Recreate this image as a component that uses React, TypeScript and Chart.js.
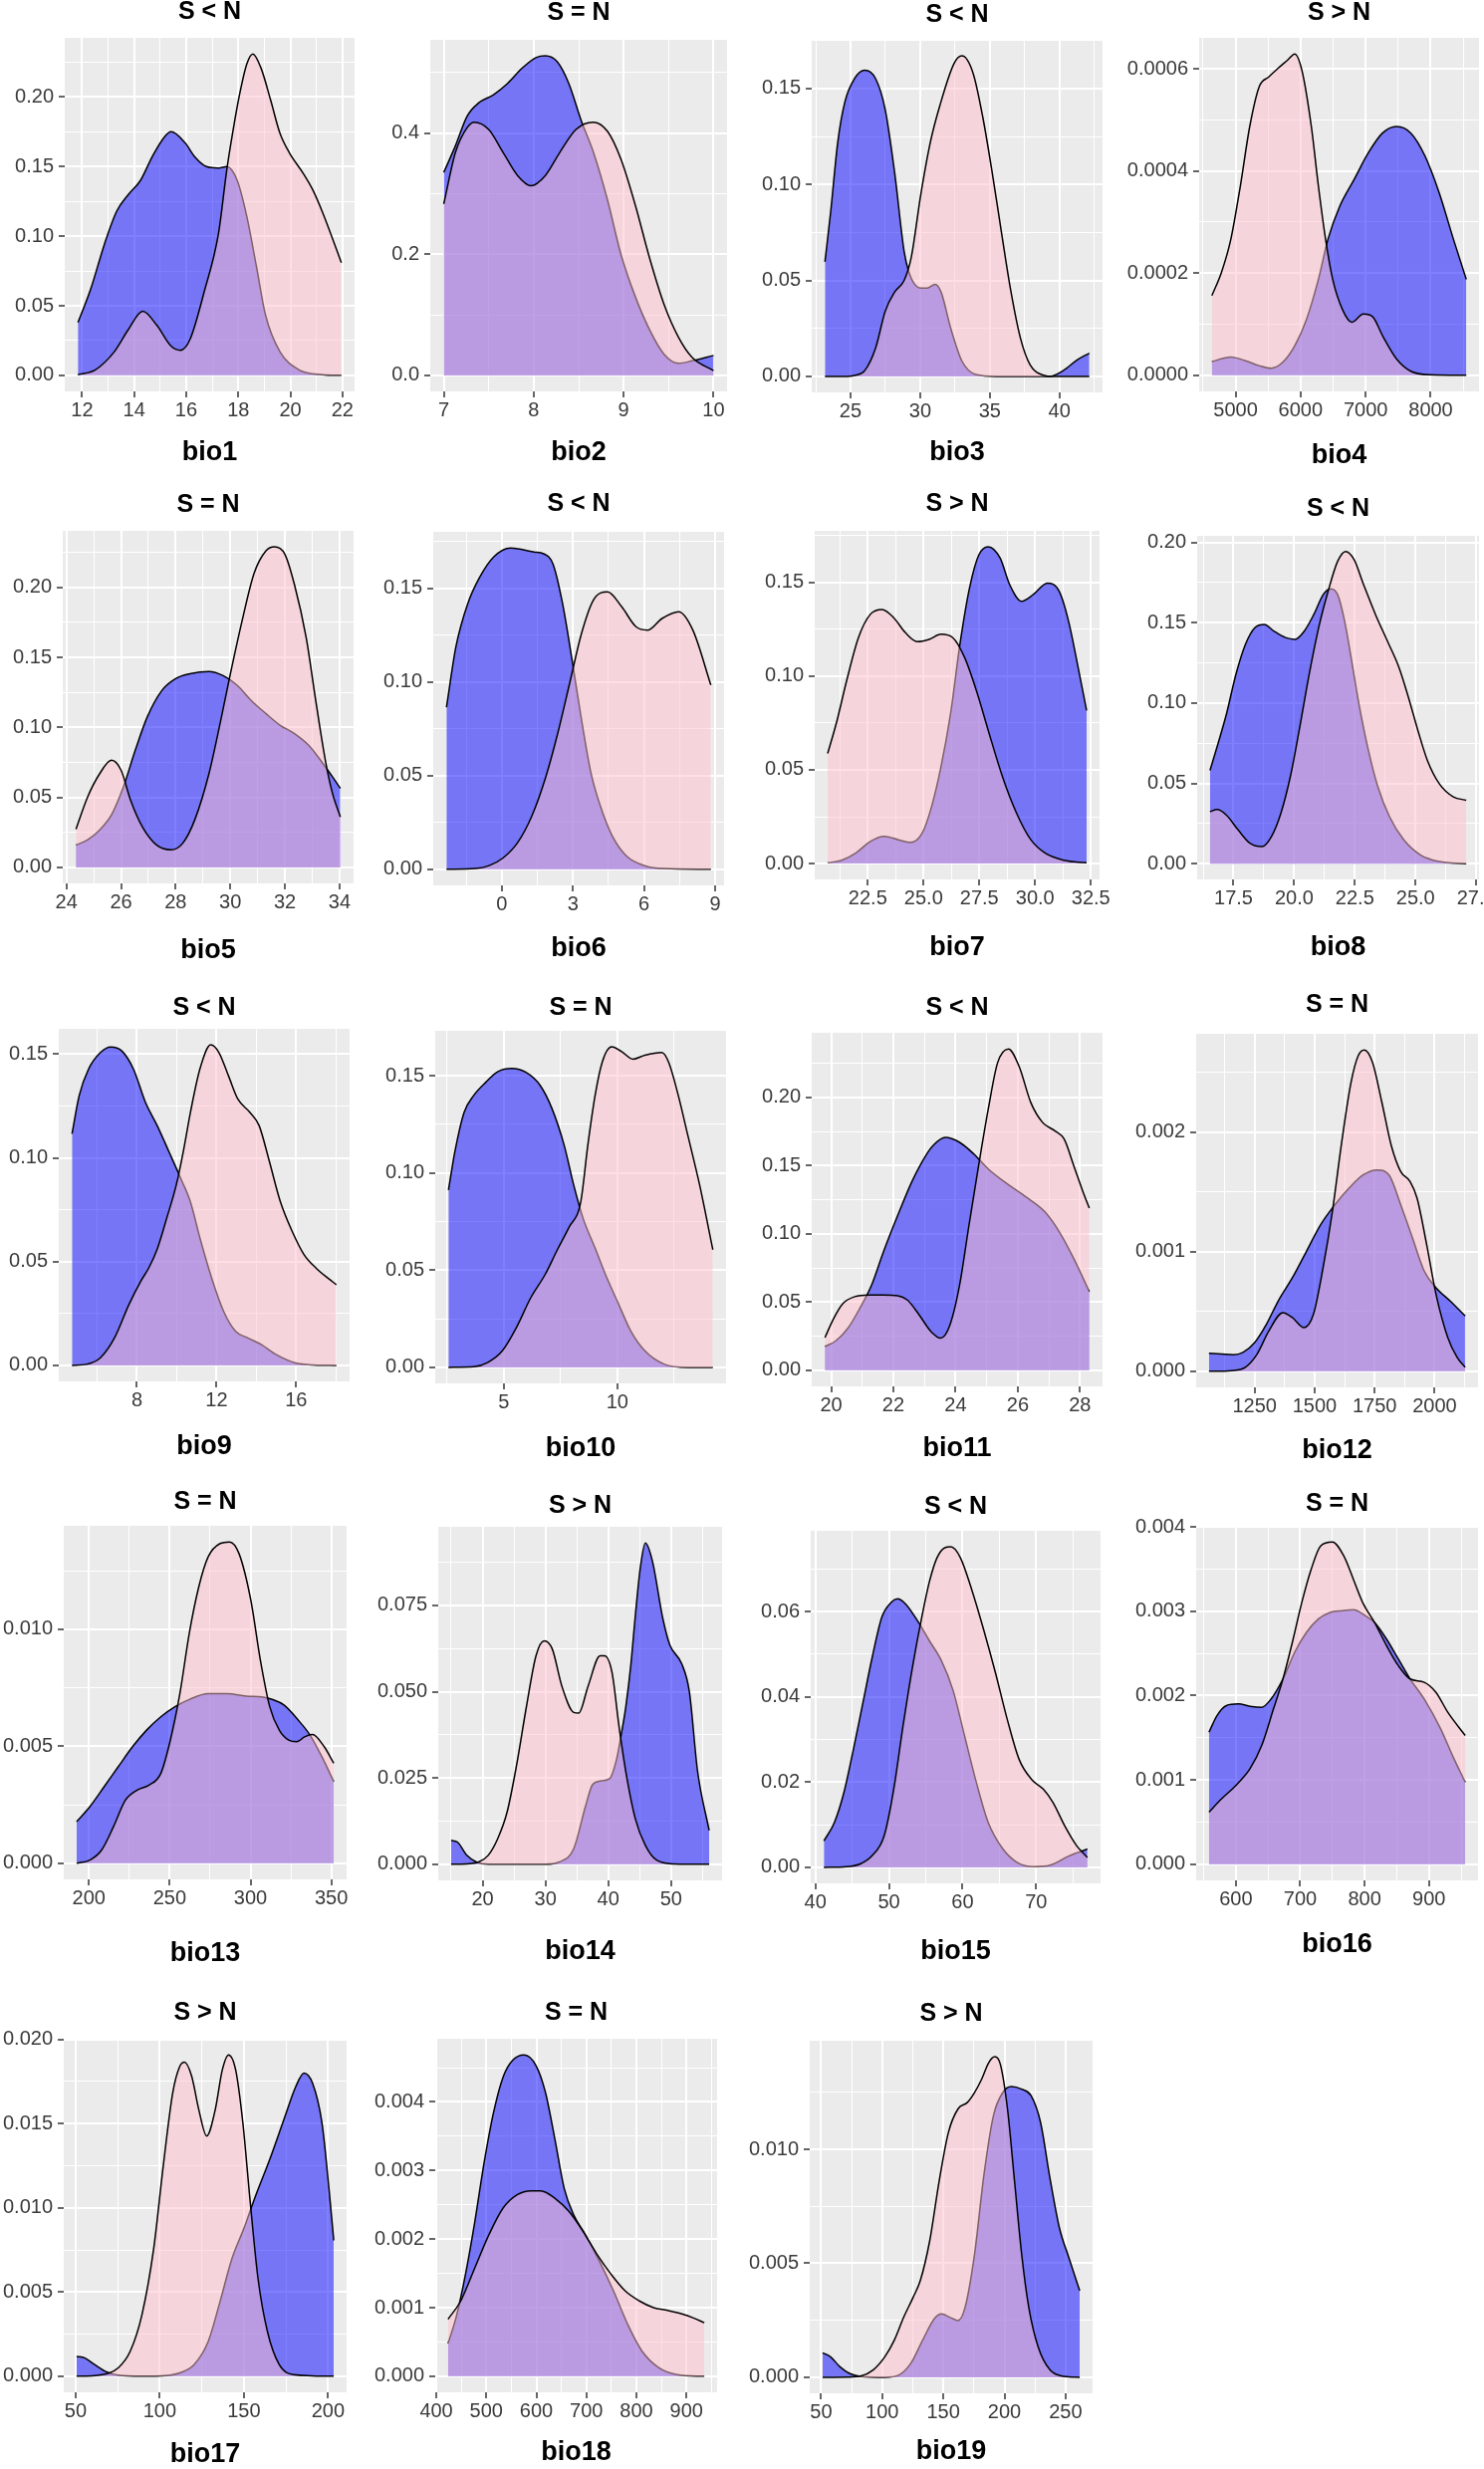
import React, { useEffect, useRef } from 'react';
import { Chart, registerables } from 'chart.js';
Chart.register(...registerables);

type Pt = [number, number];

// ---------- density curves (x, density) ----------
const bio1Blue: Pt[] = [[11.84,0.038],[12.33,0.062],[12.87,0.095],[13.33,0.118],[13.78,0.130],[14.24,0.140],[14.69,0.157],[15.15,0.171],[15.42,0.175],[15.96,0.167],[16.33,0.157],[16.78,0.150],[17.24,0.149],[17.56,0.150],[17.96,0.140],[18.33,0.114],[18.69,0.079],[19.05,0.043],[19.60,0.017],[20.33,0.004],[21.24,0.0005],[21.96,0]];
const bio1Pink: Pt[] = [[11.84,0.0005],[12.51,0.004],[13.24,0.017],[13.78,0.033],[14.33,0.046],[14.87,0.036],[15.42,0.021],[15.78,0.018],[16.15,0.026],[16.69,0.060],[17.24,0.102],[17.56,0.148],[17.78,0.174],[18.05,0.202],[18.33,0.224],[18.56,0.231],[18.87,0.221],[19.24,0.198],[19.60,0.174],[19.96,0.160],[20.50,0.145],[20.87,0.133],[21.24,0.117],[21.96,0.081]];

const bio2Blue: Pt[] = [[7.0,0.335],[7.13,0.379],[7.26,0.428],[7.39,0.450],[7.55,0.463],[7.71,0.482],[7.87,0.507],[8.03,0.525],[8.13,0.5275],[8.26,0.518],[8.39,0.482],[8.53,0.42],[8.66,0.37],[8.82,0.29],[8.97,0.20],[9.13,0.13],[9.29,0.075],[9.45,0.035],[9.61,0.02],[9.76,0.024],[10.0,0.033]];
const bio2Pink: Pt[] = [[7.0,0.283],[7.13,0.368],[7.26,0.409],[7.34,0.418],[7.50,0.406],[7.66,0.368],[7.82,0.330],[7.97,0.313],[8.13,0.330],[8.29,0.368],[8.47,0.406],[8.66,0.418],[8.82,0.403],[8.97,0.357],[9.13,0.281],[9.29,0.193],[9.45,0.117],[9.61,0.063],[9.76,0.030],[10.0,0.008]];

const bio3Blue: Pt[] = [[23.16,0.0597],[23.57,0.0856],[24.08,0.122],[24.59,0.143],[25.27,0.155],[26.02,0.1595],[26.81,0.155],[27.49,0.139],[28.17,0.106],[28.85,0.065],[29.2,0.054],[29.6,0.048],[30.05,0.046],[30.5,0.046],[31.07,0.048],[31.5,0.044],[32.2,0.025],[33.0,0.008],[34.0,0.001],[35.5,0],[38.9,0],[39.3,0],[40.27,0.003],[41.3,0.0087],[42.15,0.0121]];
const bio3Pink: Pt[] = [[23.16,0],[24.5,0],[25.27,0.0005],[26.02,0.003],[26.81,0.015],[27.49,0.034],[28.17,0.044],[28.85,0.05],[29.36,0.062],[30.05,0.095],[30.73,0.122],[31.41,0.141],[32.43,0.163],[33.0,0.167],[33.8,0.158],[34.5,0.135],[35.2,0.105],[35.84,0.075],[36.5,0.045],[37.2,0.02],[37.9,0.006],[38.91,0.0005],[39.5,0],[42.15,0]];

const bio4Blue: Pt[] = [[4636,2.7e-5],[4927,3.6e-5],[5146,2.9e-5],[5364,1.9e-5],[5546,1.4e-5],[5728,2.6e-5],[5910,5.8e-5],[6092,1.10e-4],[6274,1.88e-4],[6420,2.66e-4],[6602,3.31e-4],[6821,3.83e-4],[7039,4.35e-4],[7258,4.74e-4],[7476,4.87e-4],[7695,4.74e-4],[7913,4.29e-4],[8131,3.57e-4],[8350,2.66e-4],[8547,1.88e-4]];
const bio4Pink: Pt[] = [[4636,1.56e-4],[4782,2.01e-4],[4927,2.66e-4],[5073,3.70e-4],[5218,4.87e-4],[5364,5.65e-4],[5510,5.84e-4],[5655,6.01e-4],[5801,6.17e-4],[5910,6.29e-4],[6020,5.97e-4],[6165,4.87e-4],[6274,3.70e-4],[6384,2.66e-4],[6493,1.88e-4],[6639,1.30e-4],[6784,1.04e-4],[6966,1.20e-4],[7112,1.14e-4],[7258,7.8e-5],[7476,3.2e-5],[7695,8e-6],[7986,1e-6],[8547,0]];

const bio5Blue: Pt[] = [[24.35,0.016],[24.78,0.0197],[25.22,0.0268],[25.65,0.0375],[26.09,0.0577],[26.52,0.0837],[26.96,0.1075],[27.48,0.126],[28.0,0.1348],[28.52,0.1383],[29.22,0.14],[29.74,0.137],[30.26,0.13],[30.78,0.119],[31.3,0.11],[31.83,0.1015],[32.35,0.0956],[32.87,0.0873],[33.39,0.0743],[33.74,0.0648],[34.03,0.0565]];
const bio5Pink: Pt[] = [[24.35,0.0273],[24.78,0.0505],[25.22,0.067],[25.65,0.0766],[26.0,0.0695],[26.35,0.048],[26.78,0.029],[27.3,0.016],[27.83,0.0126],[28.26,0.0173],[28.7,0.034],[29.22,0.067],[29.65,0.105],[30.0,0.138],[30.43,0.176],[30.87,0.21],[31.3,0.226],[31.62,0.229],[32.0,0.2237],[32.35,0.202],[32.78,0.164],[33.13,0.119],[33.48,0.0766],[33.74,0.053],[34.03,0.036]];

const bio6Blue: Pt[] = [[-2.34,0.0866],[-1.94,0.119],[-1.44,0.142],[-0.94,0.156],[-0.34,0.167],[0.36,0.1717],[0.86,0.1708],[1.36,0.1695],[1.76,0.1686],[2.16,0.163],[2.56,0.142],[2.96,0.112],[3.36,0.08],[3.76,0.0515],[4.16,0.0337],[4.66,0.0178],[5.26,0.0071],[6.06,0.0018],[6.86,0.0004],[8.82,0]];
const bio6Pink: Pt[] = [[-2.34,0],[-1.14,0.0004],[-0.54,0.002],[0.06,0.0062],[0.66,0.0142],[1.26,0.0284],[1.86,0.0497],[2.36,0.0728],[2.86,0.0994],[3.36,0.126],[3.86,0.1438],[4.46,0.1482],[5.06,0.1402],[5.66,0.1296],[6.16,0.1278],[6.76,0.134],[7.46,0.1376],[8.06,0.1278],[8.82,0.0985]];

const bio7Blue: Pt[] = [[20.7,0.0004],[21.33,0.0018],[21.97,0.0057],[22.61,0.0118],[23.24,0.0145],[23.88,0.0127],[24.41,0.0113],[24.94,0.0163],[25.36,0.0304],[25.78,0.0516],[26.21,0.0799],[26.63,0.117],[27.06,0.147],[27.48,0.1647],[27.9,0.169],[28.43,0.163],[28.86,0.1488],[29.39,0.1399],[29.92,0.1435],[30.55,0.1496],[31.08,0.1452],[31.5,0.1293],[31.93,0.1046],[32.31,0.0816]];
const bio7Pink: Pt[] = [[20.7,0.0587],[21.12,0.0763],[21.55,0.0975],[22.08,0.1205],[22.61,0.1329],[23.14,0.1355],[23.67,0.131],[24.19,0.1231],[24.72,0.1184],[25.25,0.1196],[25.78,0.1223],[26.31,0.1205],[26.84,0.1099],[27.37,0.0922],[27.9,0.071],[28.54,0.0463],[29.17,0.0269],[29.81,0.0127],[30.44,0.0057],[31.29,0.0018],[32.31,0.0004]];

const bio8Blue: Pt[] = [[16.53,0.0582],[16.82,0.0727],[17.21,0.0933],[17.6,0.118],[17.99,0.1366],[18.38,0.147],[18.77,0.149],[19.16,0.1449],[19.64,0.1408],[20.03,0.1397],[20.42,0.1449],[20.81,0.1552],[21.2,0.1676],[21.5,0.1711],[21.79,0.1676],[22.08,0.151],[22.37,0.1263],[22.67,0.0995],[23.06,0.0706],[23.45,0.0479],[23.93,0.0293],[24.52,0.0149],[25.2,0.0056],[25.98,0.0014],[27.09,0]];
const bio8Pink: Pt[] = [[16.53,0.0324],[16.82,0.0338],[17.21,0.0303],[17.69,0.0211],[18.18,0.0128],[18.67,0.0107],[19.06,0.0169],[19.45,0.0314],[19.84,0.0541],[20.23,0.085],[20.62,0.118],[21.01,0.147],[21.4,0.1697],[21.79,0.1882],[22.12,0.1944],[22.47,0.1893],[22.86,0.1738],[23.35,0.1552],[23.84,0.1387],[24.32,0.1222],[24.71,0.1036],[25.1,0.083],[25.49,0.0644],[25.98,0.0499],[26.56,0.0417],[27.09,0.0396]];

const bio9Blue: Pt[] = [[4.74,0.1116],[5.1,0.13],[5.57,0.1428],[6.17,0.1508],[6.69,0.1535],[7.24,0.1516],[7.83,0.1428],[8.43,0.1268],[9.02,0.1156],[9.62,0.1028],[10.21,0.09],[10.69,0.0788],[11.17,0.0613],[11.76,0.042],[12.36,0.026],[12.95,0.0165],[13.55,0.0133],[14.26,0.01],[14.98,0.0053],[15.93,0.0013],[16.88,0.0002],[18.02,0]];
const bio9Pink: Pt[] = [[4.74,0],[5.45,0.0005],[6.17,0.0037],[6.88,0.0133],[7.6,0.0293],[8.19,0.0405],[8.6,0.047],[9.02,0.056],[9.5,0.071],[9.98,0.087],[10.33,0.103],[10.69,0.122],[11.17,0.143],[11.71,0.1545],[12.12,0.1508],[12.6,0.1396],[13.07,0.1284],[13.67,0.122],[14.14,0.1156],[14.62,0.0996],[15.21,0.0788],[15.81,0.0644],[16.4,0.0533],[17.0,0.0469],[17.6,0.042],[18.02,0.0389]];

const bio10Blue: Pt[] = [[2.57,0.0912],[2.85,0.1108],[3.26,0.1312],[3.68,0.1398],[4.21,0.1466],[4.73,0.152],[5.36,0.1537],[5.98,0.1517],[6.61,0.1449],[7.13,0.1329],[7.66,0.1142],[8.08,0.0937],[8.49,0.0767],[9.02,0.0614],[9.54,0.046],[10.06,0.0324],[10.59,0.0187],[11.21,0.0085],[12.05,0.0017],[13.1,0],[14.2,0]];
const bio10Pink: Pt[] = [[2.57,0],[3.68,0.0003],[4.31,0.0026],[4.94,0.0085],[5.56,0.0205],[6.19,0.0358],[6.82,0.0477],[7.34,0.06],[7.87,0.072],[8.39,0.0852],[8.7,0.1142],[9.02,0.1398],[9.33,0.1568],[9.75,0.1648],[10.17,0.1625],[10.69,0.1585],[11.21,0.1605],[11.95,0.1619],[12.26,0.1568],[12.68,0.1398],[13.1,0.1193],[13.62,0.0937],[14.2,0.0605]];

const bio11Blue: Pt[] = [[19.8,0.0175],[20.15,0.0216],[20.54,0.0309],[20.92,0.0454],[21.3,0.0625],[21.68,0.0868],[22.14,0.1135],[22.6,0.1385],[23.06,0.158],[23.29,0.165],[23.67,0.1706],[24.13,0.167],[24.59,0.1584],[25.05,0.1475],[25.66,0.1366],[26.27,0.1269],[26.88,0.1159],[27.34,0.1013],[27.8,0.0819],[28.3,0.0576]];
const bio11Pink: Pt[] = [[19.8,0.024],[20.08,0.038],[20.38,0.049],[20.76,0.054],[21.22,0.0552],[21.68,0.0552],[22.14,0.0547],[22.45,0.0515],[22.83,0.0406],[23.21,0.0284],[23.52,0.0236],[23.82,0.0333],[24.13,0.0625],[24.43,0.1062],[24.74,0.1499],[25.05,0.1913],[25.35,0.2253],[25.7,0.2355],[26.04,0.2228],[26.42,0.1961],[26.8,0.1815],[27.19,0.1755],[27.49,0.1694],[27.8,0.1499],[28.1,0.1305],[28.3,0.1188]];

const bio12Blue: Pt[] = [[1059.5,1.5e-4],[1112.6,1.44e-4],[1161.6,1.39e-4],[1201,1.58e-4],[1250,2.41e-4],[1299,3.94e-4],[1348,5.88e-4],[1407,7.82e-4],[1466,1.004e-3],[1525,1.226e-3],[1584,1.392e-3],[1643,1.531e-3],[1702,1.642e-3],[1760,1.684e-3],[1810,1.642e-3],[1859,1.392e-3],[1908,1.115e-3],[1957,8.38e-4],[2006,6.99e-4],[2065,5.88e-4],[2127.7,4.63e-4]];
const bio12Pink: Pt[] = [[1059.5,0],[1152,6e-6],[1211,3.3e-5],[1260,1.44e-4],[1309,3.38e-4],[1368,4.91e-4],[1407,4.49e-4],[1456,3.66e-4],[1495,4.77e-4],[1535,8.65e-4],[1574,1.337e-3],[1613,1.92e-3],[1652,2.419e-3],[1682,2.641e-3],[1707,2.688e-3],[1741,2.585e-3],[1780,2.252e-3],[1819,1.892e-3],[1859,1.67e-3],[1898,1.587e-3],[1927,1.448e-3],[1967,1.06e-3],[2006,6.44e-4],[2055,2.83e-4],[2094,1.17e-4],[2127.7,3.3e-5]];

const bio13Blue: Pt[] = [[192.4,1.78e-3],[200.6,2.42e-3],[209.4,3.27e-3],[218.2,4.13e-3],[227,4.98e-3],[235.7,5.69e-3],[244.5,6.26e-3],[253.3,6.69e-3],[262.1,7.0e-3],[273.8,7.25e-3],[285.6,7.25e-3],[297.3,7.14e-3],[307,7.11e-3],[313.4,7.0e-3],[320.7,6.76e-3],[329.5,6.12e-3],[336.8,5.48e-3],[344.2,4.55e-3],[351.5,3.49e-3]];
const bio13Pink: Pt[] = [[192.4,0],[200.6,1.4e-4],[207.9,5.7e-4],[215.2,1.56e-3],[222.6,2.7e-3],[229.9,3.13e-3],[237.2,3.34e-3],[244.5,3.84e-3],[250.4,5.26e-3],[256.3,7.25e-3],[262.1,9.82e-3],[268,1.181e-2],[273.8,1.309e-2],[281.2,1.366e-2],[287,1.373e-2],[292.9,1.323e-2],[300.2,1.124e-2],[306.1,8.68e-3],[311.9,6.69e-3],[317.8,5.69e-3],[323.6,5.26e-3],[328.5,5.19e-3],[333.5,5.4e-3],[338.3,5.5e-3],[345.6,4.98e-3],[351.5,4.27e-3]];

const bio14Blue: Pt[] = [[15.0,6.93e-3],[16.0,6.45e-3],[17.5,2.6e-3],[19.0,6.7e-4],[20.9,0],[30,0],[32.2,6.7e-4],[34.5,4.5e-3],[36.4,1.7e-2],[37.5,2.31e-2],[38.7,2.41e-2],[40.2,2.48e-2],[41.3,3.03e-2],[42.1,3.8e-2],[42.8,4.58e-2],[43.6,5.8e-2],[44.3,7.2e-2],[45.1,8.6e-2],[45.9,9.31e-2],[47,8.8e-2],[48.7,7.1e-2],[49.8,6.35e-2],[51.7,5.8e-2],[52.9,5.0e-2],[54.2,2.7e-2],[56.05,9.8e-3]];
const bio14Pink: Pt[] = [[15,0],[17.9,2e-4],[19.4,6.7e-4],[20.9,2.6e-3],[22.4,7.4e-3],[23.9,1.51e-2],[25.4,2.86e-2],[27,4.59e-2],[28.5,6.04e-2],[29.8,6.47e-2],[31.1,6.23e-2],[32.6,5.17e-2],[34.5,4.4e-2],[35.3,4.38e-2],[36.8,5.17e-2],[38.7,6.04e-2],[39.4,6.04e-2],[40.6,5.55e-2],[41.7,4.01e-2],[42.8,2.67e-2],[44.3,1.32e-2],[45.9,5.5e-3],[47.7,1.2e-3],[50.4,1e-4],[56.05,0]];

const bio15Blue: Pt[] = [[41.16,6.2e-3],[42.58,1.05e-2],[43.87,1.75e-2],[45.16,2.76e-2],[46.45,3.85e-2],[47.74,4.94e-2],[49.03,5.87e-2],[50.32,6.22e-2],[51.16,6.3e-2],[52.26,6.18e-2],[53.87,5.79e-2],[55.48,5.32e-2],[57.1,4.86e-2],[58.7,4.16e-2],[60.3,3.07e-2],[61.9,1.98e-2],[63.5,1.05e-2],[65.5,4.3e-3],[67.4,1.2e-3],[69.7,1.6e-4],[71.9,5e-4],[74.5,2.7e-3],[76.97,4.3e-3]];
const bio15Pink: Pt[] = [[41.16,0],[44.2,1.6e-4],[46.1,8e-4],[47.7,2.7e-3],[49.35,7.4e-3],[50.65,1.83e-2],[51.9,3.3e-2],[53.2,4.7e-2],[54.5,5.9e-2],[55.5,6.7e-2],[56.5,7.25e-2],[57.6,7.5e-2],[58.4,7.52e-2],[59.7,7.27e-2],[61.3,6.49e-2],[62.9,5.56e-2],[64.5,4.55e-2],[66.1,3.46e-2],[67.7,2.53e-2],[69.4,2.06e-2],[71,1.83e-2],[72.3,1.52e-2],[73.9,9.7e-3],[75.5,5.1e-3],[76.97,2.3e-3]];

const bio16Blue: Pt[] = [[558.3,1.566e-3],[570.7,1.763e-3],[585.4,1.882e-3],[603.7,1.901e-3],[622,1.874e-3],[640.2,1.862e-3],[654.9,1.961e-3],[673.2,2.197e-3],[691.4,2.513e-3],[709.7,2.749e-3],[728,2.907e-3],[746.3,2.986e-3],[764.6,3.006e-3],[782.9,3.018e-3],[801.2,2.947e-3],[815.8,2.864e-3],[834.1,2.67e-3],[852.4,2.434e-3],[870.7,2.197e-3],[892.6,1.96e-3],[918.2,1.606e-3],[936.5,1.29e-3],[956.3,9.74e-4]];
const bio16Pink: Pt[] = [[558.3,6.19e-4],[578,7.77e-4],[600,9.35e-4],[622,1.132e-3],[640.2,1.408e-3],[658.5,1.842e-3],[673.2,2.197e-3],[687.8,2.631e-3],[702.5,3.105e-3],[717.1,3.499e-3],[731.7,3.775e-3],[750,3.822e-3],[768.2,3.649e-3],[782.9,3.373e-3],[797.5,3.097e-3],[815.8,2.864e-3],[834.1,2.592e-3],[852.4,2.355e-3],[870.7,2.197e-3],[892.6,2.158e-3],[910.9,2.039e-3],[929.2,1.803e-3],[956.3,1.527e-3]];

const bio17Blue: Pt[] = [[50.6,1.18e-3],[55.6,1.08e-3],[61.3,6.9e-4],[68.3,2.6e-4],[75.3,6e-5],[89.4,0],[103.5,4e-5],[111.9,2e-4],[120.4,6.9e-4],[128.8,2.06e-3],[135.8,4.42e-3],[142.9,6.98e-3],[149.9,8.75e-3],[157,1.072e-2],[165.4,1.288e-2],[173.8,1.524e-2],[180.9,1.721e-2],[185.7,1.8e-2],[190.8,1.74e-2],[196.4,1.504e-2],[200.6,1.11e-2],[203.4,8.06e-3]];
const bio17Pink: Pt[] = [[50.6,0],[61.3,4e-5],[69.7,1.8e-4],[75.3,4.9e-4],[82.4,1.47e-3],[89.4,3.64e-3],[96.4,7.57e-3],[102.1,1.249e-2],[107.7,1.681e-2],[111.9,1.839e-2],[114.7,1.864e-2],[119,1.78e-2],[123.2,1.583e-2],[127.9,1.426e-2],[133,1.583e-2],[137.2,1.819e-2],[140.9,1.908e-2],[145.1,1.819e-2],[149.4,1.504e-2],[153.6,1.052e-2],[158.4,5.8e-3],[164,2.65e-3],[171,6.9e-4],[179.5,1e-4],[203.4,0]];

const bio18Blue: Pt[] = [[423.5,4.79e-4],[439.5,8.56e-4],[458.3,1.485e-3],[477.1,2.259e-3],[495.9,3.129e-3],[514.7,3.855e-3],[533.5,4.363e-3],[552.3,4.605e-3],[575.8,4.687e-3],[599.2,4.532e-3],[618,4.145e-3],[636.8,3.468e-3],[655.6,2.742e-3],[674.4,2.356e-3],[697.9,2.065e-3],[726.1,1.678e-3],[754.3,1.243e-3],[782.5,7.59e-4],[810.7,3.72e-4],[843.6,1.31e-4],[881.2,2.4e-5],[935.7,0]];
const bio18Pink: Pt[] = [[423.5,8.32e-4],[448.9,1.098e-3],[477.1,1.582e-3],[505.3,2.065e-3],[533.5,2.452e-3],[561.7,2.646e-3],[589.8,2.704e-3],[608.6,2.704e-3],[636.8,2.597e-3],[665,2.404e-3],[693.2,2.114e-3],[721.4,1.775e-3],[749.6,1.485e-3],[777.8,1.243e-3],[806,1.098e-3],[834.2,1.0e-3],[862.4,9.6e-4],[890.6,9.1e-4],[914.1,8.5e-4],[935.7,7.8e-4]];

const bio19Blue: Pt[] = [[51.2,1.07e-3],[57.7,9e-4],[65.4,4.6e-4],[73.2,1.7e-4],[82.8,3e-5],[102,0],[113.7,1e-4],[123.4,6.1e-4],[133,1.62e-3],[142.7,2.57e-3],[148.5,2.78e-3],[156.2,2.61e-3],[162,2.49e-3],[167.8,3.07e-3],[175.5,5.39e-3],[183.2,8.87e-3],[191,1.148e-2],[198.6,1.249e-2],[205.6,1.275e-2],[214.1,1.264e-2],[221.8,1.235e-2],[229.5,1.119e-2],[237.3,8.72e-3],[245,6.55e-3],[252.7,5.25e-3],[261.6,3.8e-3]];
const bio19Pink: Pt[] = [[51.2,0],[71.2,1e-5],[82.8,6e-5],[92.5,3.2e-4],[102.1,9e-4],[109.8,1.62e-3],[117.6,2.64e-3],[125.3,3.51e-3],[131.1,4.23e-3],[138.8,5.97e-3],[146.5,8.58e-3],[154.2,1.075e-2],[162,1.177e-2],[169.7,1.206e-2],[175.5,1.249e-2],[181.3,1.307e-2],[187.1,1.38e-2],[192.1,1.406e-2],[196.7,1.372e-2],[202.5,1.177e-2],[208.3,8.58e-3],[214.1,5.39e-3],[219.9,3.07e-3],[227.6,1.33e-3],[237.3,3.2e-4],[248.8,4e-5],[261.6,0]];

// ---------- tick labels ----------
const bio1XLabels = ['12','14','16','18','20','22'];
const bio1YLabels = ['0.00','0.05','0.10','0.15','0.20'];
const bio2XLabels = ['7','8','9','10'];
const bio2YLabels = ['0.0','0.2','0.4'];
const bio3XLabels = ['25','30','35','40'];
const bio3YLabels = ['0.00','0.05','0.10','0.15'];
const bio4XLabels = ['5000','6000','7000','8000'];
const bio4YLabels = ['0.0000','0.0002','0.0004','0.0006'];
const bio5XLabels = ['24','26','28','30','32','34'];
const bio5YLabels = ['0.00','0.05','0.10','0.15','0.20'];
const bio6XLabels = ['0','3','6','9'];
const bio6YLabels = ['0.00','0.05','0.10','0.15'];
const bio7XLabels = ['22.5','25.0','27.5','30.0','32.5'];
const bio7YLabels = ['0.00','0.05','0.10','0.15'];
const bio8XLabels = ['17.5','20.0','22.5','25.0','27.5'];
const bio8YLabels = ['0.00','0.05','0.10','0.15','0.20'];
const bio9XLabels = ['8','12','16'];
const bio9YLabels = ['0.00','0.05','0.10','0.15'];
const bio10XLabels = ['5','10'];
const bio10YLabels = ['0.00','0.05','0.10','0.15'];
const bio11XLabels = ['20','22','24','26','28'];
const bio11YLabels = ['0.00','0.05','0.10','0.15','0.20'];
const bio12XLabels = ['1250','1500','1750','2000'];
const bio12YLabels = ['0.000','0.001','0.002'];
const bio13XLabels = ['200','250','300','350'];
const bio13YLabels = ['0.000','0.005','0.010'];
const bio14XLabels = ['20','30','40','50'];
const bio14YLabels = ['0.000','0.025','0.050','0.075'];
const bio15XLabels = ['40','50','60','70'];
const bio15YLabels = ['0.00','0.02','0.04','0.06'];
const bio16XLabels = ['600','700','800','900'];
const bio16YLabels = ['0.000','0.001','0.002','0.003','0.004'];
const bio17XLabels = ['50','100','150','200'];
const bio17YLabels = ['0.000','0.005','0.010','0.015','0.020'];
const bio18XLabels = ['400','500','600','700','800','900'];
const bio18YLabels = ['0.000','0.001','0.002','0.003','0.004'];
const bio19XLabels = ['50','100','150','200','250'];
const bio19YLabels = ['0.000','0.005','0.010'];

const variableNames = ['bio1','bio2','bio3','bio4','bio5','bio6','bio7','bio8','bio9','bio10','bio11','bio12','bio13','bio14','bio15','bio16','bio17','bio18','bio19'];
const comparisons = ['S < N','S = N','S < N','S > N','S = N','S < N','S > N','S < N','S < N','S = N','S < N','S = N','S = N','S > N','S < N','S = N','S > N','S = N','S > N'];

// ---------- layout: plot rect [left, right, top, bottom], title centre y, x-label centre y ----------
const panelBoxes: number[][] = [
  [65, 356, 38, 393, 12, 455],
  [432, 730, 40, 393, 13, 455],
  [815, 1107, 40, 394, 15, 455],
  [1204, 1485, 38, 393, 13, 458],
  [63, 355, 533, 887, 507, 955],
  [435, 727, 534, 889, 506, 953],
  [818, 1104, 533, 883, 506, 952],
  [1202, 1485, 538, 883, 511, 952],
  [59, 351, 1033, 1387, 1012, 1453],
  [437, 729, 1035, 1389, 1012, 1455],
  [815, 1107, 1037, 1392, 1012, 1455],
  [1201, 1484, 1038, 1393, 1009, 1457],
  [64, 348, 1532, 1887, 1508, 1962],
  [440, 725, 1533, 1888, 1512, 1960],
  [814, 1105, 1537, 1891, 1513, 1960],
  [1201, 1484, 1532, 1888, 1510, 1953],
  [64, 348, 2047, 2402, 2021, 2465],
  [437, 720, 2047, 2402, 2021, 2463],
  [813, 1097, 2049, 2403, 2022, 2462],
];

const blueSeries = [bio1Blue,bio2Blue,bio3Blue,bio4Blue,bio5Blue,bio6Blue,bio7Blue,bio8Blue,bio9Blue,bio10Blue,bio11Blue,bio12Blue,bio13Blue,bio14Blue,bio15Blue,bio16Blue,bio17Blue,bio18Blue,bio19Blue];
const pinkSeries = [bio1Pink,bio2Pink,bio3Pink,bio4Pink,bio5Pink,bio6Pink,bio7Pink,bio8Pink,bio9Pink,bio10Pink,bio11Pink,bio12Pink,bio13Pink,bio14Pink,bio15Pink,bio16Pink,bio17Pink,bio18Pink,bio19Pink];
const xLabelSets = [bio1XLabels,bio2XLabels,bio3XLabels,bio4XLabels,bio5XLabels,bio6XLabels,bio7XLabels,bio8XLabels,bio9XLabels,bio10XLabels,bio11XLabels,bio12XLabels,bio13XLabels,bio14XLabels,bio15XLabels,bio16XLabels,bio17XLabels,bio18XLabels,bio19XLabels];
const yLabelSets = [bio1YLabels,bio2YLabels,bio3YLabels,bio4YLabels,bio5YLabels,bio6YLabels,bio7YLabels,bio8YLabels,bio9YLabels,bio10YLabels,bio11YLabels,bio12YLabels,bio13YLabels,bio14YLabels,bio15YLabels,bio16YLabels,bio17YLabels,bio18YLabels,bio19YLabels];

const FONT = "'Liberation Sans', Arial, Helvetica, sans-serif";
const BLUE_FILL = 'rgba(0,0,255,0.5)';
const PINK_FILL = 'rgba(255,192,203,0.5)';
const TICK_TEXT = '#3a3a3a';
const TICK_MARK = '#333333';

const panelBg = {
  id: 'panelBg',
  beforeDraw(chart: any) {
    const a = chart.chartArea;
    const ctx = chart.ctx;
    ctx.save();
    ctx.fillStyle = '#EBEBEB';
    ctx.fillRect(a.left, a.top, a.right - a.left, a.bottom - a.top);
    ctx.restore();
  },
};

function withMinor(major: number[], lo: number, hi: number): number[] {
  const step = major[1] - major[0];
  const out: number[] = [...major, major[0] - step / 2];
  for (const v of major) out.push(v + step / 2);
  return out.filter((v) => v >= lo && v <= hi).sort((a, b) => a - b);
}

function Panel({ idx }: { idx: number }) {
  const ref = useRef<HTMLCanvasElement>(null);
  const [L, R, T, B, tY, xY] = panelBoxes[idx];
  const PADL = 92;
  const PADR = 34;
  const cLeft = L - PADL;
  const cTop = tY - 20;
  const cW = R - L + PADL + PADR;
  const cH = xY + 26 - cTop;

  useEffect(() => {
    const blue = blueSeries[idx];
    const pink = pinkSeries[idx];
    const all = [...blue, ...pink];
    const xs = all.map((d) => d[0]);
    const ys = all.map((d) => d[1]);
    const x0 = Math.min(...xs);
    const x1 = Math.max(...xs);
    const ymax = Math.max(...ys);
    const xMin = x0 - 0.05 * (x1 - x0);
    const xMax = x1 + 0.05 * (x1 - x0);
    const yMin = -0.05 * ymax;
    const yMax = 1.05 * ymax;
    const xLabels = xLabelSets[idx];
    const yLabels = yLabelSets[idx];
    const xMajor = xLabels.map(Number);
    const yMajor = yLabels.map(Number);
    const xMap = new Map<number, string>(xMajor.map((v, i) => [v, xLabels[i]]));
    const yMap = new Map<number, string>(yMajor.map((v, i) => [v, yLabels[i]]));
    const xTicks = withMinor(xMajor, xMin, xMax);
    const yTicks = withMinor(yMajor, yMin, yMax);

    const isMajor = (m: Map<number, string>) => (c: any) => !!(c && c.tick && m.has(c.tick.value));

    const chart = new Chart(ref.current as HTMLCanvasElement, {
      type: 'line',
      data: {
        datasets: [
          {
            label: 'pink',
            data: pink.map(([x, y]) => ({ x, y })),
            backgroundColor: PINK_FILL,
            borderColor: '#000000',
            borderWidth: 1.5,
            fill: 'origin',
            pointRadius: 0,
            pointHoverRadius: 0,
            cubicInterpolationMode: 'monotone',
          },
          {
            label: 'blue',
            data: blue.map(([x, y]) => ({ x, y })),
            backgroundColor: BLUE_FILL,
            borderColor: '#000000',
            borderWidth: 1.5,
            fill: 'origin',
            pointRadius: 0,
            pointHoverRadius: 0,
            cubicInterpolationMode: 'monotone',
          },
        ],
      },
      options: {
        responsive: false,
        animation: false,
        devicePixelRatio: 1,
        events: [],
        layout: { padding: { left: 0, right: PADR, top: 5, bottom: 0 } },
        plugins: {
          legend: { display: false },
          tooltip: { enabled: false },
          filler: { drawTime: 'beforeDatasetDraw' },
          title: {
            display: true,
            text: comparisons[idx],
            fullSize: false,
            color: '#000000',
            font: { family: FONT, size: 25, weight: 'bold', lineHeight: 1.2 },
            padding: { top: 0, bottom: T - tY - 15 },
          },
        },
        scales: {
          x: {
            type: 'linear',
            min: xMin,
            max: xMax,
            bounds: 'data',
            afterBuildTicks: (s: any) => {
              s.ticks = xTicks.map((v) => ({ value: v }));
            },
            afterFit: (s: any) => {
              s.height = xY + 26 - B;
            },
            ticks: {
              autoSkip: false,
              maxRotation: 0,
              minRotation: 0,
              padding: 3,
              color: TICK_TEXT,
              font: { family: FONT, size: 20, lineHeight: 1 },
              callback: (v: any) => xMap.get(v) ?? '',
            },
            grid: {
              color: '#FFFFFF',
              lineWidth: (c: any) => (isMajor(xMap)(c) ? 2 : 1),
              drawTicks: true,
              tickLength: 6,
              tickWidth: 1.5,
              tickColor: (c: any) => (isMajor(xMap)(c) ? TICK_MARK : 'rgba(0,0,0,0)'),
            },
            border: { display: false },
            title: {
              display: true,
              text: variableNames[idx],
              color: '#000000',
              font: { family: FONT, size: 27, weight: 'bold', lineHeight: 1.2 },
              padding: { top: 0, bottom: 9.8 },
            },
          },
          y: {
            type: 'linear',
            min: yMin,
            max: yMax,
            bounds: 'data',
            afterBuildTicks: (s: any) => {
              s.ticks = yTicks.map((v) => ({ value: v }));
            },
            afterFit: (s: any) => {
              s.width = PADL;
            },
            ticks: {
              autoSkip: false,
              padding: 5,
              color: TICK_TEXT,
              font: { family: FONT, size: 20, lineHeight: 1 },
              callback: (v: any) => yMap.get(v) ?? '',
            },
            grid: {
              color: '#FFFFFF',
              lineWidth: (c: any) => (isMajor(yMap)(c) ? 2 : 1),
              drawTicks: true,
              tickLength: 6,
              tickWidth: 1.5,
              tickColor: (c: any) => (isMajor(yMap)(c) ? TICK_MARK : 'rgba(0,0,0,0)'),
            },
            border: { display: false },
          },
        },
      },
      plugins: [panelBg],
    } as any);
    return () => chart.destroy();
  }, [idx]);

  return (
    <canvas
      ref={ref}
      width={cW}
      height={cH}
      style={{ position: 'absolute', left: cLeft, top: cTop, width: cW, height: cH }}
    />
  );
}

export default function App() {
  return (
    <div
      style={{
        position: 'absolute',
        left: 0,
        top: 0,
        width: 1490,
        height: 2479,
        overflow: 'hidden',
        background: '#FFFFFF',
      }}
    >
      {variableNames.map((n, i) => (
        <Panel key={n} idx={i} />
      ))}
    </div>
  );
}
